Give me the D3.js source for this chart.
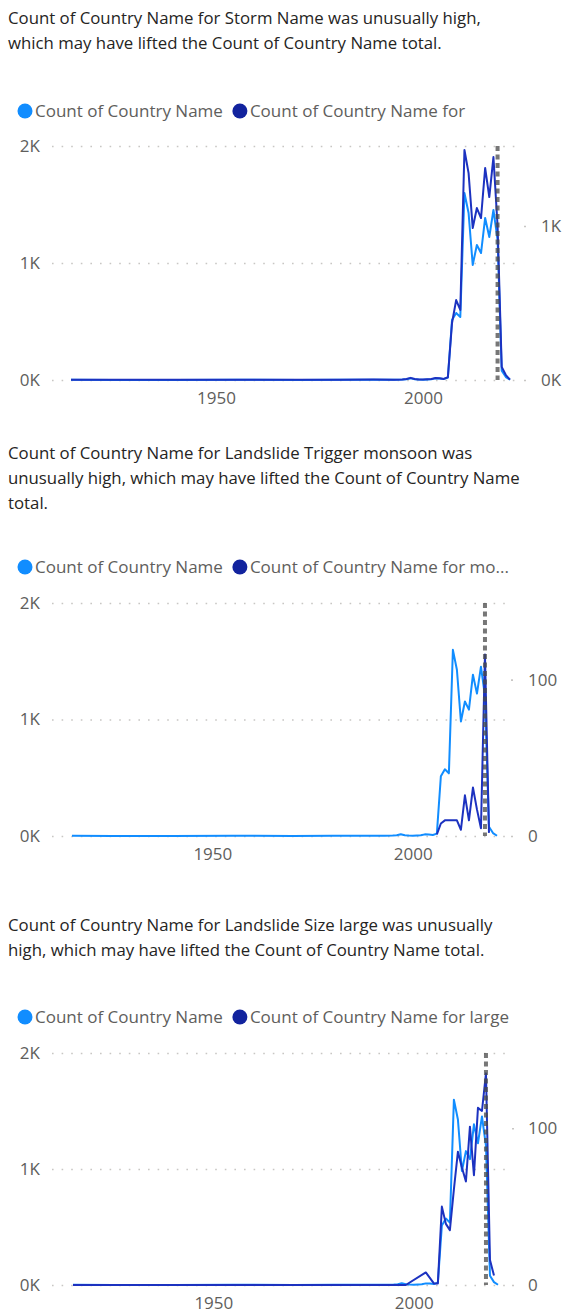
<!doctype html>
<html>
  <head>
    <script src="https://cdnjs.cloudflare.com/ajax/libs/d3/7.8.5/d3.min.js"></script>
    <style>
      body { margin: 0; background: #fff; }
      text { font-family: "Open Sans", "Noto Sans", sans-serif; }
    </style>
  </head>
  <body>
    <svg id="chart" width="566" height="1315"></svg>

    <script>
        // years that have records (total count of country name)
        var totalYears = [1915, 1925, 1940, 1955, 1970, 1980, 1988, 1993, 1995, 1996, 1997, 1998, 1999, 2000, 2001, 2002, 2003, 2004, 2005, 2006,
                          2007, 2008, 2009, 2010, 2011, 2012, 2013, 2014, 2015, 2016, 2017, 2018, 2019, 2020, 2021];
        var totalCount = [2, 1, 1, 2, 1, 2, 3, 2, 4, 6, 15, 6, 4, 3, 5, 6, 14, 12, 8, 20,
                          513, 573, 538, 1598, 1427, 983, 1154, 1085, 1385, 1222, 1453, 1200, 80, 25, 2];

        // Storm Name
        var stormYears = totalYears;
        var stormCount = [2, 1, 1, 2, 1, 2, 3, 2, 4, 6, 14, 6, 4, 3, 5, 6, 13, 11, 7, 18,
                          370, 519, 455, 1494, 1344, 987, 1117, 1052, 1377, 1188, 1448, 1000, 84, 32, 2];

        // Landslide Trigger monsoon
        var monsoonYears = [2006, 2007, 2008, 2009, 2010, 2011, 2012, 2013, 2014, 2015, 2016, 2017, 2018, 2019];
        var monsoonCount = [1, 8, 10, 10, 10, 10, 4, 26, 10, 31, 17, 5, 116, 2];

        // Landslide Size large
        var largeYears = [1915, 1960, 1998, 2003, 2005, 2006, 2007, 2008, 2009, 2010, 2011, 2012, 2013, 2014, 2015, 2016, 2017, 2018, 2019, 2020];
        var largeCount = [0, 0, 0, 8, 1, 1, 50, 39, 35, 61, 85, 75, 66, 101, 70, 113, 111, 135, 16, 6];

        var anomalyYear = 2018;
        var xTicks = [1950, 2000];
        var leftTicks = [0, 1000, 2000];

        var titles = [
            ["Count of Country Name for Storm Name was unusually high,",
             "which may have lifted the Count of Country Name total."],
            ["Count of Country Name for Landslide Trigger monsoon was",
             "unusually high, which may have lifted the Count of Country Name",
             "total."],
            ["Count of Country Name for Landslide Size large was unusually",
             "high, which may have lifted the Count of Country Name total."]
        ];
        var legendTotal = "Count of Country Name";
        var legendParts = ["Count of Country Name for", "Count of Country Name for mo...", "Count of Country Name for large"];

        var rightTicks = [[0, 1000], [0, 100], [0, 100]];
        var rightMax = [1520, 149, 148];

        var lightBlue = "#118DFF";
        var darkBlue = "#1c32c0";

        var panels = [
            {years: stormYears, values: stormCount, titleY: 24, legendY: 111, top: 146, bottom: 380, xRange: [71, 510], gridEnd: 520, rightX: 541},
            {years: monsoonYears, values: monsoonCount, titleY: 459, legendY: 567, top: 603, bottom: 836, xRange: [72, 497], gridEnd: 507, rightX: 528},
            {years: largeYears, values: largeCount, titleY: 931, legendY: 1017, top: 1053, bottom: 1285, xRange: [73, 498], gridEnd: 508, rightX: 528}
        ];

        var svg = d3.select("#chart");
        svg.append("rect").attr("width", 566).attr("height", 1315).attr("fill", "#fff");

        var kFormat = d => (d / 1000) + "K";

        panels.forEach((p, i) => drawPanel(p, i));

        function drawPanel(p, i){
            var g = svg.append("g");

            // title
            g.selectAll("text.title")
                .data(titles[i])
                .enter()
                .append("text")
                    .attr("class", "title")
                    .attr("x", 8)
                    .attr("y", (d, j) => p.titleY + j * 25)
                    .attr("fill", "#252423")
                    .style("font-size", "16.8px")
                    .text(d => d);

            // legend
            var lg = g.append("g").attr("transform", "translate(0," + p.legendY + ")");
            lg.append("circle").attr("cx", 25).attr("cy", 0).attr("r", 7.5).attr("fill", lightBlue);
            var t1 = lg.append("text").attr("x", 35).attr("dy", "0.35em")
                .attr("fill", "#605E5C").style("font-size", "17px").text(legendTotal);
            var w1 = t1.node().getComputedTextLength();
            lg.append("circle").attr("cx", 35 + w1 + 17).attr("cy", 0).attr("r", 7.5).attr("fill", "#12239E");
            lg.append("text").attr("x", 35 + w1 + 27).attr("dy", "0.35em")
                .attr("fill", "#605E5C").style("font-size", "17px").text(legendParts[i]);

            var x = d3.scaleLinear().domain([1915, 2021]).range(p.xRange);
            var yL = d3.scaleLinear().domain([0, 2000]).range([p.bottom, p.top]);
            var yR = d3.scaleLinear().domain([0, rightMax[i]]).range([p.bottom, p.top]);

            // left axis + gridlines
            var gl = g.append("g")
                .attr("transform", "translate(52,0)")
                .call(d3.axisLeft(yL).tickValues(leftTicks).tickFormat(kFormat)
                    .tickSize(-(p.gridEnd - 52)).tickPadding(12));
            gl.select(".domain").remove();
            gl.selectAll(".tick line")
                .attr("stroke", "#c8c6c4")
                .attr("stroke-width", 1.6)
                .attr("stroke-dasharray", "1.6,8");
            gl.selectAll(".tick text")
                .attr("fill", "#605E5C")
                .style("font-size", "17px")
                .style("font-family", "'Open Sans', sans-serif");

            // right axis
            var gr = g.append("g")
                .attr("transform", "translate(" + (p.gridEnd + 4) + ",0)")
                .call(d3.axisRight(yR).tickValues(rightTicks[i])
                    .tickFormat(i == 0 ? kFormat : d3.format("d"))
                    .tickSize(2).tickPadding(p.rightX - p.gridEnd - 6));
            gr.select(".domain").remove();
            gr.selectAll(".tick line").attr("stroke", "#c8c6c4").attr("stroke-width", 1.6);
            gr.selectAll(".tick text")
                .attr("fill", "#605E5C")
                .style("font-size", "17px")
                .style("font-family", "'Open Sans', sans-serif");

            // x axis
            var gx = g.append("g")
                .attr("transform", "translate(0," + p.bottom + ")")
                .call(d3.axisBottom(x).tickValues(xTicks).tickFormat(d3.format("d"))
                    .tickSize(0).tickPadding(12));
            gx.select(".domain").remove();
            gx.selectAll(".tick text")
                .attr("fill", "#605E5C")
                .style("font-size", "17px")
                .style("font-family", "'Open Sans', sans-serif");

            // lines
            var totalLine = d3.line()
                .x((d, j) => x(totalYears[j]))
                .y(d => yL(d));
            g.append("path")
                .datum(totalCount)
                .attr("d", totalLine)
                .attr("fill", "none")
                .attr("stroke", lightBlue)
                .attr("stroke-width", 2)
                .attr("stroke-linejoin", "round");

            var partLine = d3.line()
                .x((d, j) => x(p.years[j]))
                .y(d => yR(d));
            g.append("path")
                .datum(p.values)
                .attr("d", partLine)
                .attr("fill", "none")
                .attr("stroke", darkBlue)
                .attr("stroke-width", 2)
                .attr("stroke-linejoin", "round");

            // anomaly marker
            g.append("line")
                .attr("x1", x(anomalyYear)).attr("x2", x(anomalyYear))
                .attr("y1", p.top).attr("y2", p.bottom)
                .attr("stroke", "#4a4a4a")
                .attr("stroke-opacity", 0.75)
                .attr("stroke-width", 4)
                .attr("stroke-dasharray", "5,3.5");
        }
    </script>
  </body>
</html>
